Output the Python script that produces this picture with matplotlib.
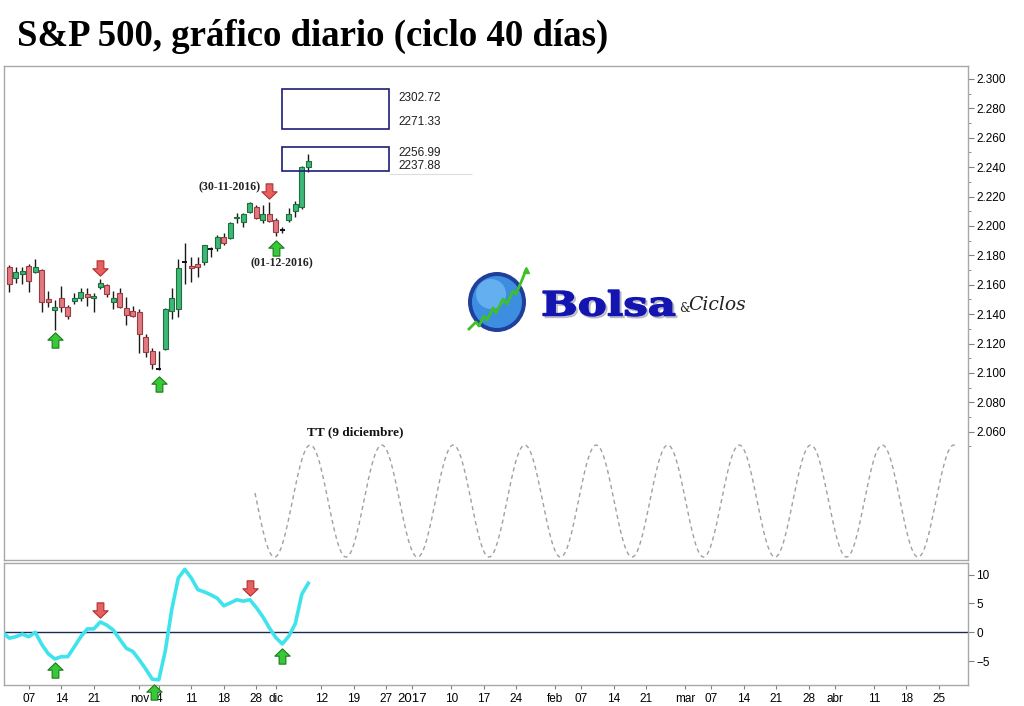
import numpy as np
import pandas as pd
import matplotlib
matplotlib.use("Agg")
import matplotlib.pyplot as plt
from matplotlib.path import Path
from matplotlib.patches import Rectangle, Ellipse, PathPatch
from matplotlib.textpath import TextPath
from matplotlib.font_manager import FontProperties
from matplotlib.transforms import Affine2D
from matplotlib.ticker import FixedLocator, FuncFormatter

# ---------------- data ----------------
hist_start, hist_end = "2016-10-04", "2016-12-08"
hist_holidays = ["2016-11-24"]
future_start, future_end = "2016-12-09", "2017-05-05"
future_holidays = ["2016-12-26"]

opens = [2172.3, 2164.4, 2167.2, 2172.8, 2168.9, 2170.1, 2150.1, 2142.9, 2150.8, 2144.7,
         2149.2, 2151.3, 2153.7, 2150.8, 2158.3, 2159.9, 2148.1, 2154.7, 2144.0, 2142.2,
         2141.3, 2124.3, 2115.0, 2102.6, 2116.3, 2142.2, 2143.3, 2175.3, 2172.8, 2174.2,
         2175.8, 2184.2, 2184.9, 2192.3, 2191.6, 2205.2, 2203.0, 2209.8, 2213.2, 2204.1,
         2208.2, 2204.1, 2197.3, 2204.1, 2210.5, 2213.2, 2239.9]
highs = [2173.5, 2171.9, 2171.9, 2174.2, 2177.3, 2170.5, 2156.0, 2149.7, 2159.4, 2146.3,
         2154.2, 2158.0, 2157.6, 2154.2, 2163.7, 2160.5, 2156.0, 2157.6, 2151.5, 2145.6,
         2143.3, 2126.5, 2116.8, 2115.0, 2144.0, 2157.6, 2177.3, 2188.7, 2179.1, 2178.7,
         2186.9, 2186.0, 2193.9, 2195.0, 2202.9, 2208.7, 2208.7, 2216.1, 2214.3, 2214.3,
         2216.6, 2205.2, 2199.1, 2212.0, 2217.3, 2240.6, 2249.0]
lows = [2155.0, 2161.0, 2160.3, 2155.4, 2168.0, 2141.3, 2144.7, 2129.3, 2141.8, 2136.7,
        2146.8, 2149.2, 2145.6, 2141.8, 2156.9, 2152.0, 2143.3, 2144.0, 2132.7, 2138.3,
        2113.9, 2110.7, 2102.5, 2102.0, 2115.6, 2136.5, 2137.9, 2160.5, 2162.2, 2165.1,
        2173.6, 2179.2, 2183.3, 2186.9, 2190.9, 2202.0, 2199.1, 2209.1, 2204.6, 2202.3,
        2203.0, 2193.2, 2195.0, 2203.0, 2206.0, 2211.8, 2237.0]
closes = [2160.3, 2168.5, 2169.4, 2162.8, 2171.9, 2148.1, 2148.6, 2144.7, 2144.7, 2139.0,
          2150.8, 2154.9, 2152.0, 2152.6, 2161.4, 2153.5, 2150.8, 2145.2, 2139.5, 2138.8,
          2126.5, 2114.1, 2105.9, 2102.4, 2143.3, 2150.8, 2171.2, 2175.3, 2171.2, 2172.4,
          2186.9, 2184.2, 2192.3, 2188.3, 2202.2, 2206.4, 2208.2, 2215.4, 2205.2, 2208.2,
          2203.4, 2196.2, 2197.3, 2208.2, 2215.0, 2239.9, 2244.4]
doji_idx = [23, 27, 31, 42]

# oscillator, one value per bar starting one bar before the first candle
osc_start = -1
osc_values = [0.0, -1.0, -0.75, -0.3, -0.75, 0.0, -2.1, -3.7, -4.6, -4.2,
              -4.2, -2.5, -0.75, 0.6, 0.6, 1.8, 1.25, 0.4, -1.2, -2.75,
              -3.3, -4.75, -6.35, -8.1, -8.2, -3.2, 4.0, 9.4, 10.9, 9.4,
              7.4, 7.0, 6.5, 5.9, 4.6, 5.1, 5.65, 5.4, 5.65, 4.3,
              2.7, 0.8, -0.9, -2.0, -0.65, 1.5, 6.6, 8.5]

# projection boxes (bar index range, price range) and their labels
box_x0, box_x1 = 41.95, 58.4
box1_low, box1_high = 2266.0, 2293.2
box2_low, box2_high = 2237.4, 2253.7
box_labels = ["2302.72", "2271.33", "2256.99", "2237.88"]
box_label_prices = [2287.0, 2270.7, 2249.7, 2240.8]

# theoretical cycle curve (parameters)
cycle_from, cycle_to = 37.8, 145.5
cycle_peak_at, cycle_period = 46.3, 11.0
cycle_high, cycle_low = 2051.0, 1974.8

# arrows
main_up_idx, main_up_price = [7, 23, 41], [2122.4, 2092.5, 2185.2]
main_down_idx, main_down_price = [14, 40], [2171.2, 2223.6]
osc_up_idx, osc_up_val = [7, 22.2, 42], [-6.5, -10.3, -4.15]
osc_down_idx, osc_down_val = [14, 37], [3.8, 7.6]

# x tick labels
tick_dates = ["2016-10-07", "2016-10-14", "2016-10-21", "2016-11-01", "2016-11-04",
              "2016-11-11", "2016-11-18", "2016-11-28", "2016-12-01", "2016-12-12",
              "2016-12-19", "2016-12-27", "2017-01-02", "2017-01-10", "2017-01-17",
              "2017-01-24", "2017-02-01", "2017-02-07", "2017-02-14", "2017-02-21",
              "2017-03-01", "2017-03-07", "2017-03-14", "2017-03-21", "2017-03-28",
              "2017-04-03", "2017-04-11", "2017-04-18", "2017-04-25"]
tick_labels = ["07", "14", "21", "nov", "4", "11", "18", "28", "dic", "12",
               "19", "27", "2017", "10", "17", "24", "feb", "07", "14", "21",
               "mar", "07", "14", "21", "28", "abr", "11", "18", "25"]

price_ticks = list(range(2060, 2301, 20))
osc_ticks = [-5, 0, 5, 10]

title = "S&P 500, gráfico diario (ciclo 40 días)"

# ---------------- calendar ----------------
hist = pd.bdate_range(hist_start, hist_end)
hist = hist[~hist.isin(pd.to_datetime(hist_holidays))]
fut = pd.bdate_range(future_start, future_end)
fut = fut[~fut.isin(pd.to_datetime(future_holidays))]
calendar = hist.append(fut)
cal_index = {d: i for i, d in enumerate(calendar)}
tick_pos = [cal_index[pd.Timestamp(d)] for d in tick_dates]
n = len(opens)
xs = np.arange(n)

# ---------------- figure ----------------
W, H = 1024, 706
fig = plt.figure(figsize=(W / 100, H / 100), dpi=100)
fig.patch.set_facecolor("white")

def fx(px):
    return px / W

def fy(py):
    return 1 - py / H

L, R = 4, 968
ax = fig.add_axes([fx(L), fy(560), fx(R - L), fy(66) - fy(560)])
ax2 = fig.add_axes([fx(L), fy(685), fx(R - L), fy(563) - fy(685)], sharex=ax)

frame_col = "#a8a8a8"
for a in (ax, ax2):
    for s in a.spines.values():
        s.set_color(frame_col)
        s.set_linewidth(1.0)

ax.set_xlim(-0.815, 147.49)
ax.set_ylim(1972.8, 2308.8)
ax2.set_ylim(-9.1, 12.0)

# candles
green_fill, green_edge = "#3cb878", "#1f6e3c"
red_fill, red_edge = "#e07a80", "#9c3a40"
o = np.array(opens); c = np.array(closes); h = np.array(highs); l = np.array(lows)
ax.vlines(xs, l, h, color="#1a1a1a", lw=1.0, zorder=2)
bw = 0.8
for i in range(n):
    if i in doji_idx:
        ax.hlines((o[i] + c[i]) / 2, i - bw / 2, i + bw / 2, color="#111111", lw=1.4, zorder=3)
        continue
    up = c[i] >= o[i]
    lo, hi = min(o[i], c[i]), max(o[i], c[i])
    ax.add_patch(Rectangle((i - bw / 2, lo), bw, max(hi - lo, 0.8),
                           facecolor=green_fill if up else red_fill,
                           edgecolor=green_edge if up else red_edge, lw=0.8, zorder=3))

# boxes
box_col = "#1c1c78"
for lo_, hi_ in ((box1_low, box1_high), (box2_low, box2_high)):
    ax.add_patch(Rectangle((box_x0, lo_), box_x1 - box_x0, hi_ - lo_, fill=False,
                           edgecolor=box_col, lw=1.2, zorder=4))
for t, p in zip(box_labels, box_label_prices):
    ax.text(box_x1 + 1.4, p, t, fontsize=8.5, family="Liberation Sans", color="#202020",
            va="center", ha="left")
ax.hlines(box2_low - 2.0, box_x1, box_x1 + 12.8, color="#dddddd", lw=0.8, zorder=1)

# cycle
cx = np.linspace(cycle_from, cycle_to, 600)
mid = (cycle_high + cycle_low) / 2
amp = (cycle_high - cycle_low) / 2
cy = mid + amp * np.cos(2 * np.pi * (cx - cycle_peak_at) / cycle_period)
ax.plot(cx, cy, color="#a0a0a0", lw=1.0, ls=(0, (3, 2.5)), zorder=2)

# arrows
up_path = Path([(-0.22, -0.5), (0.22, -0.5), (0.22, 0.02), (0.5, 0.02), (0.0, 0.5),
                (-0.5, 0.02), (-0.22, 0.02), (-0.22, -0.5)], closed=True)
down_path = Path([(x, -y) for x, y in up_path.vertices], closed=True)
g_fill, g_edge = "#38c838", "#1a7a1a"
r_fill, r_edge = "#e66060", "#b03030"

def draw_arrows(a, xi, yi, path, fc, ec):
    a.plot(xi, yi, ls="none", marker=path, ms=11, mfc=fc, mec=ec, mew=0.8,
           zorder=6, clip_on=False)

draw_arrows(ax, main_up_idx, main_up_price, up_path, g_fill, g_edge)
draw_arrows(ax, main_down_idx, main_down_price, down_path, r_fill, r_edge)
draw_arrows(ax2, osc_up_idx, osc_up_val, up_path, g_fill, g_edge)
draw_arrows(ax2, osc_down_idx, osc_down_val, down_path, r_fill, r_edge)

# annotations
serif = "Liberation Serif"
ax.text(38.7, 2226.0, "(30-11-2016)", family=serif, weight="bold", fontsize=8.5,
        ha="right", va="center", color="#222222")
ax.text(42.0, 2174.8, "(01-12-2016)", family=serif, weight="bold", fontsize=8.5,
        ha="center", va="center", color="#222222")
ax.text(53.2, 2059.5, "TT (9 diciembre)", family=serif, weight="bold", fontsize=9.5,
        ha="center", va="center", color="#111111")

# oscillator
ox = np.arange(osc_start, osc_start + len(osc_values))
ax2.axhline(0, color="#1c2a5a", lw=1.0, zorder=2)
ax2.plot(ox, osc_values, color="#3fe3ec", lw=2.6, solid_joinstyle="round", zorder=3)

# axes formatting
sans = "Liberation Sans"
ax.yaxis.tick_right()
ax.yaxis.set_major_locator(FixedLocator(price_ticks))
ax.yaxis.set_minor_locator(FixedLocator(list(range(2050, 2311, 10))))
ax.yaxis.set_major_formatter(FuncFormatter(lambda v, p: f"{v / 1000:.3f}"))
ax.tick_params(axis="y", which="major", direction="out", length=4, width=0.8,
               color="#808080", labelsize=8.5, pad=2)
ax.tick_params(axis="y", which="minor", direction="out", length=2, width=0.6, color="#808080")
ax.tick_params(axis="x", which="both", bottom=False, labelbottom=False)
for lab in ax.get_yticklabels():
    lab.set_family(sans)

ax2.yaxis.tick_right()
ax2.yaxis.set_major_locator(FixedLocator(osc_ticks))
ax2.tick_params(axis="y", direction="out", length=4, width=0.8, color="#808080",
                labelsize=8.5, pad=2)
for lab in ax2.get_yticklabels():
    lab.set_family(sans)
ax2.set_xticks(tick_pos)
ax2.set_xticklabels(tick_labels)
ax2.tick_params(axis="x", direction="out", length=3, width=0.8, color="#808080",
                labelsize=8.5, pad=3)
for lab in ax2.get_xticklabels():
    lab.set_family(["Liberation Sans Narrow", "Liberation Sans"])
    if lab.get_text() == "2017":
        lab.set_fontsize(9.5)

# title
fig.text(fx(17), fy(36), title, family=serif, weight="bold", fontsize=26.5,
         ha="left", va="center", color="#000000")

# logo (decoration, in pixel space)
lg = fig.add_axes([0, 0, 1, 1], zorder=10)
lg.set_xlim(0, W); lg.set_ylim(H, 0); lg.axis("off")
lg.add_patch(Ellipse((497, 302), 58, 60, facecolor="#1f3f9a", edgecolor="none"))
lg.add_patch(Ellipse((497, 302), 50, 52, facecolor="#3d8ee0", edgecolor="none"))
lg.add_patch(Ellipse((491, 294), 30, 30, facecolor="#6db8f5", edgecolor="none", alpha=0.8))
zig_x = [469, 476, 479, 484, 487, 493, 496, 503, 507, 513, 516, 522, 526]
zig_y = [329, 322, 326, 316, 320, 308, 313, 299, 304, 291, 294, 280, 270]
lg.plot(zig_x, zig_y, color="#3fbf2a", lw=2.0)
lg.plot([526], [270], marker="^", ms=5, color="#3fbf2a")


def fitted_text(txt, x0, x1, ytop, ybot, color, fp, dx=0, dy=0, alpha=1.0, lw=0.0):
    tp = TextPath((0, 0), txt, size=10, prop=fp)
    ext = tp.get_extents()
    sx = (x1 - x0) / ext.width
    sy = (ybot - ytop) / ext.height
    tr = (Affine2D().translate(-ext.x0, -ext.y0).scale(sx, -sy)
          .translate(x0 + dx, ybot + dy) + lg.transData)
    lg.add_patch(PathPatch(tp, transform=tr, facecolor=color,
                           edgecolor=color if lw > 0 else "none", lw=lw, alpha=alpha))


bolsa_fp = FontProperties(family="DejaVu Serif", weight="bold")
fitted_text("Bolsa", 543, 675, 290, 316, "#8888a0", bolsa_fp, dx=2, dy=2, alpha=0.45, lw=1.0)
fitted_text("Bolsa", 543, 675, 290, 316, "#1414b0", bolsa_fp, lw=1.0)
lg.text(679, 309, "&", family="DejaVu Serif", fontsize=8.5, color="#222222",
        ha="left", va="center")
lg.text(688, 305, "Ciclos", family="DejaVu Serif", style="italic", fontsize=13.5,
        color="#222222", ha="left", va="center")

fig.savefig("out.png", dpi=100, facecolor="white")
